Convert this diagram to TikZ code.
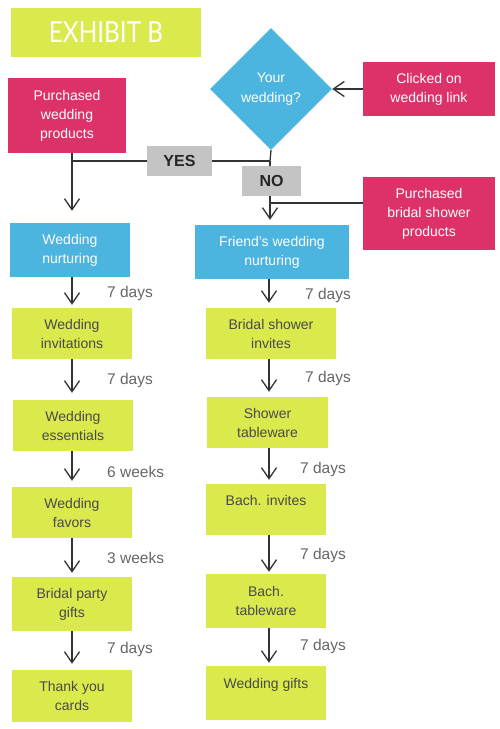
\documentclass[tikz,border=0pt]{standalone}
\usepackage{fontspec}
\setmainfont{Liberation Sans}
\newfontfamily\titlefont{Lato}
\usetikzlibrary{arrows.meta,shapes.geometric}
\definecolor{lime}{HTML}{DAE94B}
\definecolor{pink}{HTML}{DC3268}
\definecolor{sky}{HTML}{4BB4DF}
\definecolor{graybox}{HTML}{C4C4C4}
\definecolor{linec}{HTML}{333333}
\definecolor{darktext}{HTML}{4A4A4A}
\definecolor{timec}{HTML}{666666}
\tikzset{
  box/.style={rectangle, inner sep=0pt, align=center, font=\fontsize{14}{19}\selectfont},
  limebox/.style={box, fill=lime, text=darktext},
  pinkbox/.style={box, fill=pink, text=white},
  bluebox/.style={box, fill=sky, text=white},
  labbox/.style={rectangle, inner sep=0pt, fill=graybox, text=black!85, font=\fontsize{16}{19}\selectfont\bfseries},
  timelbl/.style={anchor=west, inner sep=0pt, text=timec, font=\fontsize{15.5}{18}\selectfont},
  conn/.style={draw=linec, line width=1.3pt},
  arr/.style={conn, -{Straight Barb[length=11pt,width=15pt,line width=1.3pt]}},
}
\begin{document}
\begin{tikzpicture}[x=1pt,y=-1pt]
\useasboundingbox[fill=white] (0,0) rectangle (500,729);
% title
\node[rectangle, fill=lime, minimum width=190, minimum height=49, inner sep=0pt, text=white] (title) at (106,32.5) {\titlefont\fontsize{29}{30}\selectfont\scalebox{0.84}[1]{EXHIBIT B}};
% decision
\node[diamond, fill=sky, minimum width=122, minimum height=122, inner sep=0pt, aspect=1, text=white, align=center, font=\fontsize{14}{20}\selectfont] (dec) at (271,89) {Your\\wedding?};
% pink boxes
\node[pinkbox, minimum width=132, minimum height=54] (cwl) at (429,89) {Clicked on\\wedding link};
\node[pinkbox, minimum width=118, minimum height=75] (pwp) at (67,115.5) {Purchased\\wedding\\products};
\node[pinkbox, minimum width=132, minimum height=73] (pbsp) at (429,213.5) {Purchased\\bridal shower\\products};
% blue nurturing boxes
\node[bluebox, minimum width=120, minimum height=54] (wn) at (70,250) {Wedding\\nurturing};
\node[bluebox, minimum width=154, minimum height=54] (fwn) at (272,252) {Friend’s wedding\\nurturing};
% left column
\node[limebox, minimum width=120, minimum height=51] (wi) at (72,333.5) {Wedding\\invitations};
\node[limebox, minimum width=120, minimum height=51] (we) at (73,425.5) {Wedding\\essentials};
\node[limebox, minimum width=120, minimum height=51] (wf) at (72,512.5) {Wedding\\favors};
\node[limebox, minimum width=120, minimum height=54] (bpg) at (72,604) {Bridal party\\gifts};
\node[limebox, minimum width=120, minimum height=52] (tyc) at (72,696) {Thank you\\cards};
% right column
\node[limebox, minimum width=130, minimum height=51] (bsi) at (271,333.5) {Bridal shower\\invites};
\node[limebox, minimum width=121, minimum height=51] (st) at (267.5,422.5) {Shower\\tableware};
\node[limebox, minimum width=120, minimum height=51] (bi) at (266,509.5) {Bach. invites\\\mbox{}};
\node[limebox, minimum width=120, minimum height=54] (bt) at (266,601) {Bach.\\tableware};
\node[limebox, minimum width=120, minimum height=54] (wg) at (266,693) {Wedding gifts\\\mbox{}};
% junction coordinates
\coordinate (jl) at (72,161);
\coordinate (jr) at (270,161);
\coordinate (jb) at (270,203);
% connectors
\draw[arr] (cwl.west) -- (dec.east);
\draw[conn] (dec.south) -- (jr);
\draw[conn] (jr) -- (jl);
\draw[conn] (pwp.south -| jl) -- (jl);
\draw[arr, shorten >=12pt] (jl) -- (jl |- wn.north);
\draw[arr, shorten >=5pt] (jr) -- (jr |- fwn.north);
\draw[conn] (pbsp.west |- jb) -- (jb);
% YES / NO labels
\node[labbox, minimum width=65, minimum height=30] (yes) at (179.5,161) {YES};
\node[labbox, minimum width=59, minimum height=30] (no) at (271.5,181) {NO};
% left chain
\coordinate (lx) at (72,0);
\draw[arr, shorten >=3pt] (lx |- wn.south) -- (lx |- wi.north);
\draw[arr, shorten >=7pt] (lx |- wi.south) -- (lx |- we.north);
\draw[arr, shorten >=6pt] (lx |- we.south) -- (lx |- wf.north);
\draw[arr, shorten >=4pt] (lx |- wf.south) -- (lx |- bpg.north);
\draw[arr, shorten >=6pt] (lx |- bpg.south) -- (lx |- tyc.north);
% right chain
\coordinate (rx) at (269,0);
\draw[arr, shorten >=5pt] (rx |- fwn.south) -- (rx |- bsi.north);
\draw[arr, shorten >=5pt] (rx |- bsi.south) -- (rx |- st.north);
\draw[arr, shorten >=4pt] (rx |- st.south) -- (rx |- bi.north);
\draw[arr, shorten >=2pt] (rx |- bi.south) -- (rx |- bt.north);
\draw[arr, shorten >=3pt] (rx |- bt.south) -- (rx |- wg.north);
% time labels
\node[timelbl] (t1) at (107,293) {7 days};
\node[timelbl] (t2) at (107,380) {7 days};
\node[timelbl] (t3) at (107,472) {6 weeks};
\node[timelbl] (t4) at (107,558) {3 weeks};
\node[timelbl] (t5) at (107,649) {7 days};
\node[timelbl] (t6) at (305,295) {7 days};
\node[timelbl] (t7) at (305,378) {7 days};
\node[timelbl] (t8) at (300,469) {7 days};
\node[timelbl] (t9) at (300,555) {7 days};
\node[timelbl] (t10) at (300,646) {7 days};
\end{tikzpicture}
\end{document}
